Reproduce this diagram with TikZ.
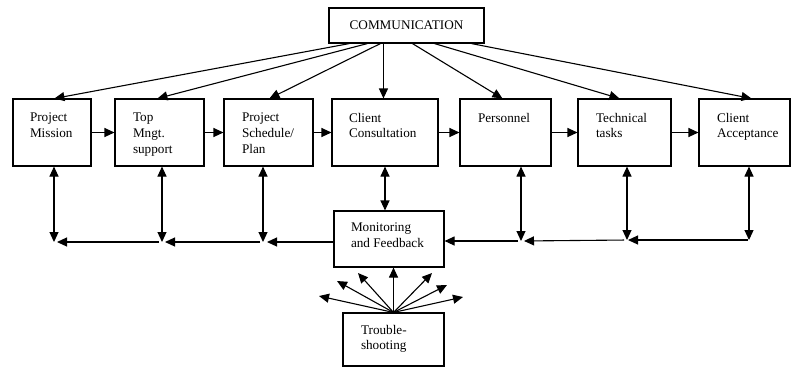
\documentclass[tikz,border=0pt]{standalone}
\usepackage{fontspec}
\setmainfont{Liberation Serif}
\usetikzlibrary{arrows.meta,calc}

\begin{document}
\begin{tikzpicture}[x=1pt,y=-1pt,
      line width=1.1pt,
      font=\fontsize{13.2}{15.7}\selectfont,
      box/.style={draw,inner sep=0pt,minimum height=67pt},
      lbl/.style={anchor=north west,align=left,inner sep=0pt},
      arr/.style={-{Triangle[length=10pt,width=9pt]}},
      dbl/.style={{Triangle[length=10pt,width=9pt]}-{Triangle[length=10pt,width=9pt]}}]
  \useasboundingbox (0,0) rectangle (791,368);
  % top box
  \node[box,minimum width=155pt,minimum height=35pt] (comm) at (406.5,25.5) {COMMUNICATION};
  % main row
  \node[box,minimum width=78pt] (pm) at (52,132.5) {};
  \node[box,minimum width=89pt] (tm) at (159.5,132.5) {};
  \node[box,minimum width=89pt] (ps) at (268.5,132.5) {};
  \node[box,minimum width=106pt] (cc) at (385,132.5) {};
  \node[box,minimum width=91pt] (pe) at (505.5,132.5) {};
  \node[box,minimum width=93pt] (tt) at (624.5,132.5) {};
  \node[box,minimum width=91pt] (ca) at (744.5,132.5) {};
  \node[lbl] (pmt) at ($(pm.north west)+(17,14)$) {Project\\Mission};
  \node[lbl] (tmt) at ($(tm.north west)+(18,14)$) {Top\\Mngt.\\support};
  \node[lbl] (pst) at ($(ps.north west)+(18,14)$) {Project\\Schedule/\\Plan};
  \node[lbl] (cct) at ($(cc.north west)+(17,14)$) {Client\\Consultation};
  \node[lbl] (pet) at ($(pe.north west)+(18,14)$) {Personnel};
  \node[lbl] (ttt) at ($(tt.north west)+(18,14)$) {Technical\\tasks};
  \node[lbl] (cat) at ($(ca.north west)+(18,14)$) {Client\\Acceptance};
  % feedback and troubleshooting
  \node[box,minimum width=110pt,minimum height=56pt] (mf) at (389,239) {};
  \node[lbl] (mft) at ($(mf.north west)+(17,12)$) {Monitoring\\and Feedback};
  \node[box,minimum width=101pt,minimum height=53pt] (ts) at (393.5,339.5) {};
  \node[lbl] (tst) at ($(ts.north west)+(18,12)$) {Trouble-\\shooting};

  % communication links
  \foreach \n/\a/\b in {pm/21/42,tm/39/43,ps/52/46,cc/55/52,pe/84/43,tt/106/42,ca/143/53}
    \draw[arr] ($(comm.south west)+(\a,0)$) -- ($(\n.north west)+(\b,0)$);
  % sequence
  \draw[arr] (pm) -- (tm);
  \draw[arr] (tm) -- (ps);
  \draw[arr] (ps) -- (cc);
  \draw[arr] (cc) -- (pe);
  \draw[arr] (pe) -- (tt);
  \draw[arr] (tt) -- (ca);

  % feedback loop
  \coordinate (j1) at (54,242);
  \coordinate (j2) at (162,242);
  \coordinate (j3) at (263,242);
  \coordinate (j5) at (521,241);
  \coordinate (j6) at (627,240);
  \coordinate (j7) at (749,240);
  \draw[dbl] (j1 |- pm.south) -- (j1);
  \draw[dbl] (j2 |- tm.south) -- (j2);
  \draw[dbl] (j3 |- ps.south) -- (j3);
  \draw[dbl] (j5 |- pe.south) -- (j5);
  \draw[dbl] (j6 |- tt.south) -- (j6);
  \draw[dbl] (j7 |- ca.south) -- (j7);
  \draw[dbl] (cc.south) -- (cc.south |- mf.north);
  \draw[arr,shorten <=3pt,shorten >=3pt] (j2) -- (j1);
  \draw[arr,shorten <=3pt,shorten >=3pt] (j3) -- (j2);
  \draw[arr,shorten >=4pt] (mf.west |- j3) -- (j3);
  \draw[arr,shorten <=3pt] (j5) -- (mf.east |- j5);
  \draw[arr,shorten <=3pt,shorten >=3pt] (j6) -- (j5);
  \draw[arr,shorten <=1pt,shorten >=1pt] (j7) -- (j6);

  % troubleshooting fan
  \foreach \n/\x/\y in {1/319/296,2/337/281,3/358/273,5/432/273,6/447/285,7/463/297}
    \coordinate (f\n) at (\x,\y);
  \foreach \n in {1,2,3,5,6,7}
    \draw[arr] (ts.north) -- (f\n);
  \draw[arr] (ts.north) -- (ts.north |- mf.south);
\end{tikzpicture}
\end{document}
